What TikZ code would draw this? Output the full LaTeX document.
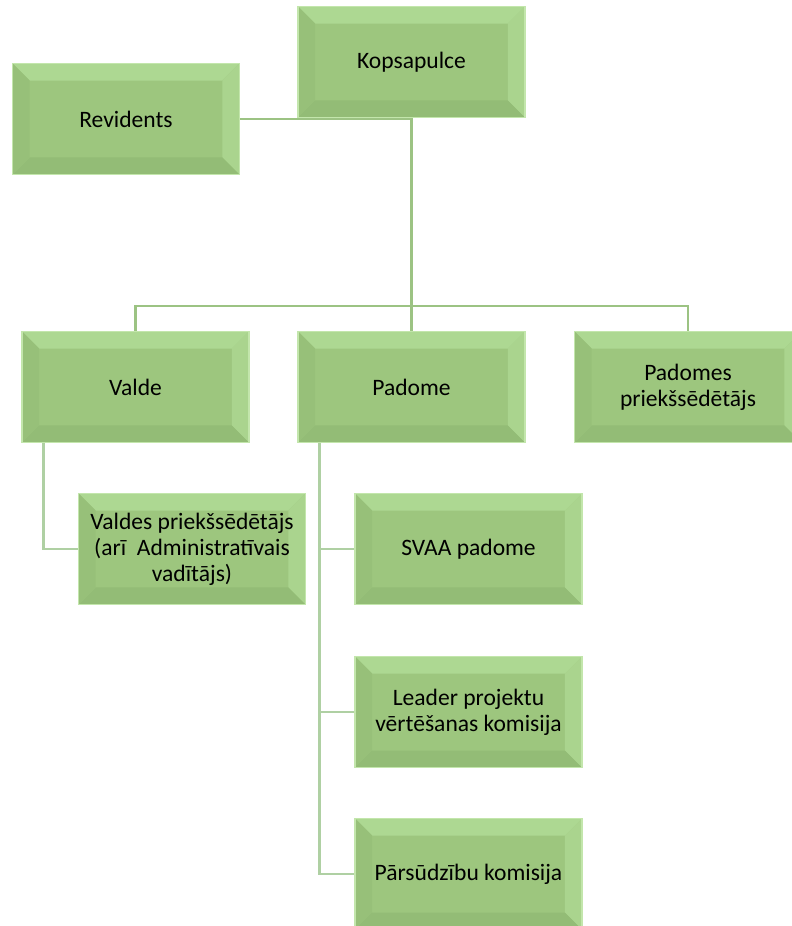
\documentclass[tikz,border=0pt]{standalone}
\usepackage{fontspec}
\setmainfont{Carlito}
\usepackage{tikz}

\definecolor{boxgreen}{HTML}{9DC67E}
\definecolor{bevellight}{HTML}{ADD892}
\definecolor{beveldark}{HTML}{93BC76}
\definecolor{rimgreen}{HTML}{C3E6AC}
\definecolor{linegreen}{HTML}{9CC383}
\definecolor{sublinegreen}{HTML}{AFD0A3}

\begin{document}
\begin{tikzpicture}[x=0.02cm, y=-0.02cm,
  orgbox/.style={shape=rectangle, fill=boxgreen, draw=rimgreen, line width=0.8pt,
    minimum width=4.54cm, minimum height=2.22cm, inner sep=0pt, align=center,
    font=\fontsize{13.4}{14.8}\selectfont,
    path picture={
      \fill[bevellight] (path picture bounding box.north west) -- (path picture bounding box.north east)
        -- ([xshift=-0.34cm,yshift=-0.34cm]path picture bounding box.north east)
        -- ([xshift=0.34cm,yshift=-0.34cm]path picture bounding box.north west) -- cycle;
      \fill[bevellight!80!boxgreen] (path picture bounding box.north east) -- (path picture bounding box.south east)
        -- ([xshift=-0.34cm,yshift=0.34cm]path picture bounding box.south east)
        -- ([xshift=-0.34cm,yshift=-0.34cm]path picture bounding box.north east) -- cycle;
      \fill[beveldark] (path picture bounding box.south west) -- (path picture bounding box.south east)
        -- ([xshift=-0.34cm,yshift=0.34cm]path picture bounding box.south east)
        -- ([xshift=0.34cm,yshift=0.34cm]path picture bounding box.south west) -- cycle;
      \fill[beveldark!60!boxgreen] (path picture bounding box.north west) -- (path picture bounding box.south west)
        -- ([xshift=0.34cm,yshift=0.34cm]path picture bounding box.south west)
        -- ([xshift=0.34cm,yshift=-0.34cm]path picture bounding box.north west) -- cycle;
    }},
  link/.style={draw=linegreen, line width=1.6pt},
  sublink/.style={draw=sublinegreen, line width=1.6pt}]
\useasboundingbox (0,0) rectangle (791,926);

\node[orgbox](kop) at (411.5,62) {Kopsapulce};
\node[orgbox](rev) at (126,119) {Revidents};
\node[orgbox](valde) at (135.5,387) {Valde};
\node[orgbox](padome) at (411.5,387) {Padome};
\node[orgbox](padpr) at (688,387) {Padomes\\priekšsēdētājs};
\node[orgbox](vpr) at (192,549) {Valdes priekšsēdētājs\\(arī~ Administratīvais\\vadītājs)};
\node[orgbox](svaa) at (468.5,549) {SVAA padome};
\node[orgbox](leader) at (468.5,712) {Leader projektu\\vērtēšanas komisija};
\node[orgbox](parsud) at (468.5,874) {Pārsūdzību komisija};

\coordinate (bar) at (411.5,306);
\coordinate (vtrunk) at ([xshift=0.44cm]valde.south west);
\coordinate (ptrunk) at ([xshift=0.44cm]padome.south west);

% top level
\path[link] (rev.east) -- (rev.east -| kop.south);
\path[link] (kop.south) -- (bar);
\path[link] (bar) -| (valde.north);
\path[link] (bar) -- (padome.north);
\path[link] (bar) -| (padpr.north);

% under Valde and Padome
\path[sublink] (vtrunk) |- (vpr.west);
\path[sublink] (ptrunk) |- (parsud.west);
\path[sublink] (ptrunk |- svaa.west) -- (svaa.west);
\path[sublink] (ptrunk |- leader.west) -- (leader.west);
\end{tikzpicture}
\end{document}
